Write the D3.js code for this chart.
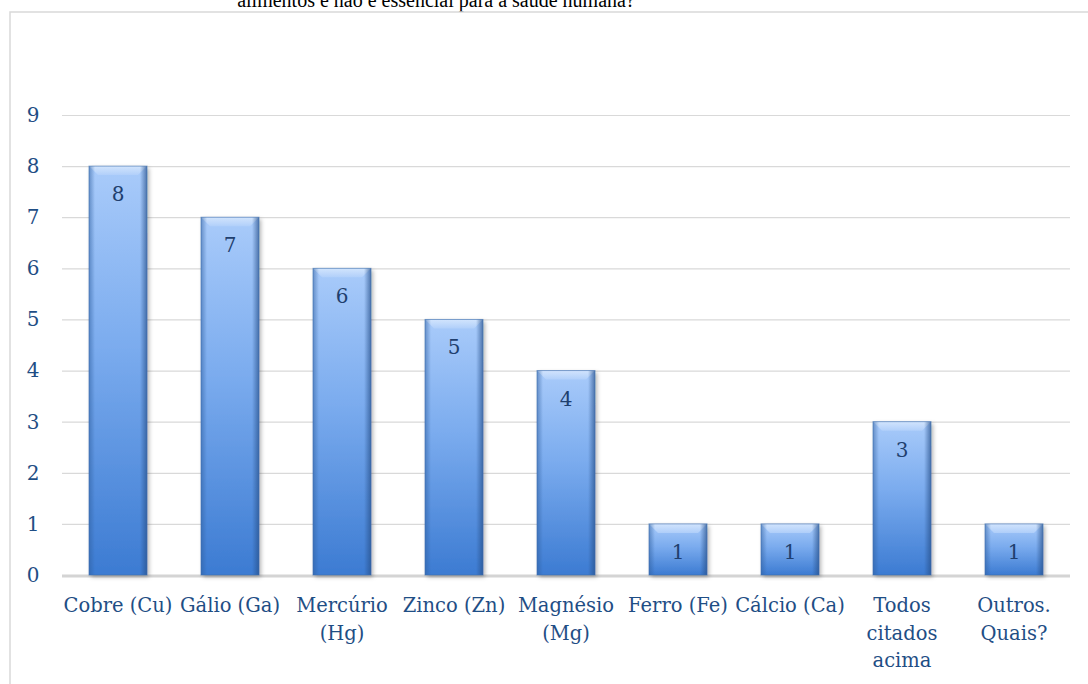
<!DOCTYPE html>
<html>
<head>
<meta charset="utf-8">
<script src="https://cdn.jsdelivr.net/npm/d3@7"></script>
<style>
  html, body { margin: 0; padding: 0; background: #fff; }
  svg { display: block; }
</style>
</head>
<body>
<svg id="chart" width="1088" height="684"></svg>
<script>
// Respostas por elemento químico
const categories = [
  ["Cobre (Cu)"],
  ["Gálio (Ga)"],
  ["Mercúrio", "(Hg)"],
  ["Zinco (Zn)"],
  ["Magnésio", "(Mg)"],
  ["Ferro (Fe)"],
  ["Cálcio (Ca)"],
  ["Todos", "citados", "acima"],
  ["Outros.", "Quais?"]
];
const values = [8, 7, 6, 5, 4, 1, 1, 3, 1];
const yTicks = [0, 1, 2, 3, 4, 5, 6, 7, 8, 9];
const titleText = "alimentos e não é essencial para a saúde humana?";

const svg = d3.select("#chart");
const W = 1088, H = 684;
const plot = { left: 62, right: 1070, top: 115, bottom: 575 };
const labelColor = "#1f4e85";
const serif = "'DejaVu Serif', serif";

// gradients
const defs = svg.append("defs");
const gV = defs.append("linearGradient").attr("id", "barV")
  .attr("x1", 0).attr("y1", 0).attr("x2", 0).attr("y2", 1);
gV.append("stop").attr("offset", "0%").attr("stop-color", "#a9cbfa");
gV.append("stop").attr("offset", "45%").attr("stop-color", "#7aabee");
gV.append("stop").attr("offset", "100%").attr("stop-color", "#3c7bd2");

const gTop = defs.append("linearGradient").attr("id", "bevTop")
  .attr("x1", 0).attr("y1", 0).attr("x2", 0).attr("y2", 1);
gTop.append("stop").attr("offset", "0%").attr("stop-color", "#d6e7fd");
gTop.append("stop").attr("offset", "100%").attr("stop-color", "#b2d0fa");

const gSideL = defs.append("linearGradient").attr("id", "bevL")
  .attr("x1", 0).attr("y1", 0).attr("x2", 1).attr("y2", 0);
gSideL.append("stop").attr("offset", "0%").attr("stop-color", "#2f5f9f").attr("stop-opacity", 0.55);
gSideL.append("stop").attr("offset", "100%").attr("stop-color", "#2f5f9f").attr("stop-opacity", 0);

const gSideR = defs.append("linearGradient").attr("id", "bevR")
  .attr("x1", 1).attr("y1", 0).attr("x2", 0).attr("y2", 0);
gSideR.append("stop").attr("offset", "0%").attr("stop-color", "#27508a").attr("stop-opacity", 0.7);
gSideR.append("stop").attr("offset", "100%").attr("stop-color", "#27508a").attr("stop-opacity", 0);

const shadow = defs.append("filter").attr("id", "shadow")
  .attr("x", "-20%").attr("y", "-5%").attr("width", "140%").attr("height", "115%");
shadow.append("feDropShadow").attr("dx", 2).attr("dy", 2).attr("stdDeviation", 2)
  .attr("flood-color", "#000").attr("flood-opacity", 0.3);

// title (only its last line shows, above the frame)
svg.append("text")
  .attr("x", 436).attr("y", 7)
  .attr("text-anchor", "middle")
  .attr("font-family", "'Liberation Serif', 'Times New Roman', serif")
  .attr("font-size", 20).attr("fill", "#000")
  .text(titleText);

// chart frame
svg.append("rect")
  .attr("x", 10).attr("y", 12).attr("width", W + 20).attr("height", H + 20)
  .attr("fill", "none").attr("stroke", "#d9d9d9").attr("stroke-width", 1.5);

// scales
const x = d3.scaleBand()
  .domain(categories.map((d, i) => i))
  .range([plot.left, plot.right])
  .paddingInner(0.482).paddingOuter(0.241);
const y = d3.scaleLinear().domain([0, 9]).range([plot.bottom, plot.top]);

// y axis: gridlines + labels
const yAxis = d3.axisLeft(y).tickValues(yTicks)
  .tickSize(-(plot.right - plot.left)).tickPadding(0).tickFormat(d3.format("d"));
const gy = svg.append("g").attr("transform", `translate(${plot.left},0)`).call(yAxis);
gy.select(".domain").remove();
gy.selectAll(".tick line").attr("stroke", "#d9d9d9").attr("stroke-width", 1.2);
gy.selectAll(".tick text")
  .attr("x", -29).attr("text-anchor", "middle")
  .attr("font-family", serif).attr("font-size", 20).attr("fill", labelColor);

// zero line
svg.append("line")
  .attr("x1", plot.left).attr("x2", plot.right)
  .attr("y1", y(0) + 1).attr("y2", y(0) + 1)
  .attr("stroke", "#d4d4d4").attr("stroke-width", 3);

// bars
const bw = x.bandwidth();
const bars = svg.append("g").selectAll("g.bar").data(values).join("g")
  .attr("class", "bar")
  .attr("transform", (d, i) => `translate(${x(i)},${y(d)})`);

bars.append("rect")
  .attr("width", bw).attr("height", d => y(0) - y(d))
  .attr("fill", "url(#barV)").attr("filter", "url(#shadow)");

// bevel: top facet
const bev = 9;
bars.append("path")
  .attr("d", `M0,0 L${bw},0 L${bw - bev},${bev} L${bev},${bev} Z`)
  .attr("fill", "url(#bevTop)").attr("opacity", 0.9);
// bevel: side facets
bars.append("rect")
  .attr("width", 6).attr("height", d => y(0) - y(d))
  .attr("fill", "url(#bevL)");
bars.append("rect")
  .attr("x", bw - 7).attr("width", 7).attr("height", d => y(0) - y(d))
  .attr("fill", "url(#bevR)");
bars.append("rect")
  .attr("width", bw).attr("height", d => y(0) - y(d))
  .attr("fill", "none").attr("stroke", "#3e6eae").attr("stroke-width", 1).attr("stroke-opacity", 0.6);

// value labels
bars.append("text")
  .attr("x", bw / 2).attr("y", 35)
  .attr("text-anchor", "middle")
  .attr("font-family", serif).attr("font-size", 20).attr("fill", "#1f3f6e")
  .text(d => d);

// category labels
const cat = svg.append("g").selectAll("text").data(categories).join("text")
  .attr("x", (d, i) => x(i) + bw / 2)
  .attr("y", 612)
  .attr("text-anchor", "middle")
  .attr("font-family", serif).attr("font-size", 19.5).attr("fill", labelColor);
cat.selectAll("tspan").data(d => d).join("tspan")
  .attr("x", function () { return d3.select(this.parentNode).attr("x"); })
  .attr("dy", (d, j) => j === 0 ? 0 : 27.7)
  .text(d => d);
</script>
</body>
</html>
